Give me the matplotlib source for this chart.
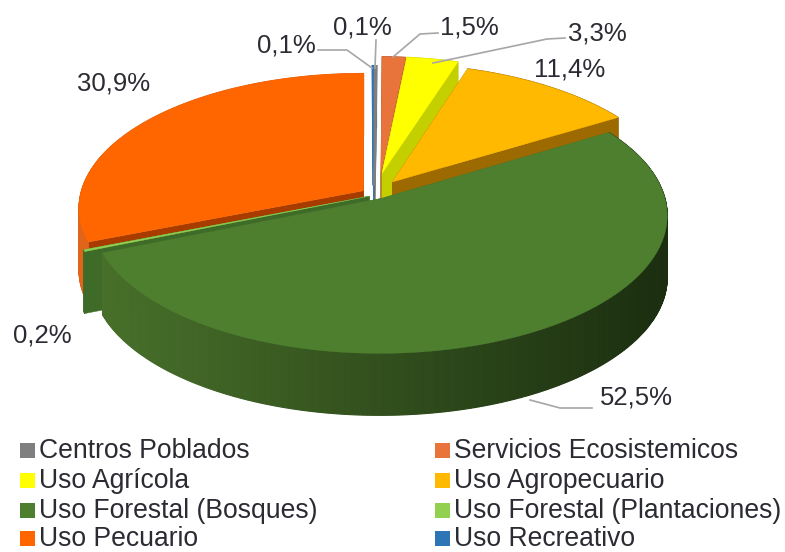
import numpy as np
import matplotlib
matplotlib.use('Agg')
import matplotlib.pyplot as plt
from matplotlib.patches import Polygon, Rectangle

plt.rcParams['font.family'] = ['Liberation Sans', 'DejaVu Sans']

categories = ['Uso Recreativo', 'Centros Poblados', 'Servicios Ecosistemicos', 'Uso Agrícola',
              'Uso Agropecuario', 'Uso Forestal (Bosques)', 'Uso Forestal (Plantaciones)', 'Uso Pecuario']
values = [0.1, 0.1, 1.5, 3.3, 11.4, 52.5, 0.2, 30.9]
value_labels = ['0,1%', '0,1%', '1,5%', '3,3%', '11,4%', '52,5%', '0,2%', '30,9%']
legend_order = ['Centros Poblados', 'Servicios Ecosistemicos', 'Uso Agrícola', 'Uso Agropecuario',
                'Uso Forestal (Bosques)', 'Uso Forestal (Plantaciones)', 'Uso Pecuario', 'Uso Recreativo']

colors = {'Uso Recreativo': '#2e75b6', 'Centros Poblados': '#7f7f7f', 'Servicios Ecosistemicos': '#e8743b',
          'Uso Agrícola': '#ffff00', 'Uso Agropecuario': '#ffb900', 'Uso Forestal (Bosques)': '#4e7f2f',
          'Uso Forestal (Plantaciones)': '#92d050', 'Uso Pecuario': '#ff6600'}
wall_colors = {'Uso Recreativo': '#2e75b6', 'Centros Poblados': '#666666', 'Servicios Ecosistemicos': '#a8552b',
               'Uso Agrícola': '#c4cf00', 'Uso Agropecuario': '#9c6a00', 'Uso Forestal (Bosques)': '#3f6b28',
               'Uso Forestal (Plantaciones)': '#3f6b28', 'Uso Pecuario': '#a83c00'}
ORANGE_SIDE = '#e0651a'

# how far each slice is pulled out, in units of the radius
explode = {'Uso Recreativo': (-0.015, 0.02), 'Centros Poblados': (-0.012, 0.02),
           'Servicios Ecosistemicos': (0.01, 0.11), 'Uso Agrícola': (0.014, 0.11),
           'Uso Agropecuario': (0.05, 0.045), 'Uso Forestal (Bosques)': (0.015, -0.075),
           'Uso Forestal (Plantaciones)': (-0.03, -0.06), 'Uso Pecuario': (-0.05, -0.02)}
radius = {'Uso Pecuario': 0.97, 'Uso Forestal (Bosques)': 0.985}

draw_order = ['Servicios Ecosistemicos', 'Uso Recreativo', 'Centros Poblados', 'Uso Agrícola',
              'Uso Agropecuario', 'Uso Pecuario', 'Uso Forestal (Plantaciones)', 'Uso Forestal (Bosques)']

CX, CY = 378, 188
RX, RY = 287, 135
P, Q = 0.127, 0.01
DEPTH = 62


def project(x, y):
    w = 1 + P * y + Q * x
    return CX + RX * x / w, CY - RY * y / w


def slice_angles():
    # clockwise from 12 o'clock, the first slice sits just left of the top
    total = sum(values)
    start = -values[0] / total * 360
    out = {}
    for name, v in zip(categories, values):
        end = start + v / total * 360
        out[name] = (start, end)
        start = end
    return out


def rim(name, a0, a1):
    n = max(2, int(abs(a1 - a0) / 0.5) + 1)
    th = np.radians(np.linspace(a0, a1, n))
    ox, oy = explode[name]
    r = radius.get(name, 1)
    return project(r * np.sin(th) + ox, r * np.cos(th) + oy)


def green_wall(x):
    # the big slice gets darker towards the right
    t = np.clip((x - 100) / 567, 0, 1)
    a = np.array([72, 112, 42])
    b = np.array([27, 46, 16])
    return tuple((a + (b - a) * t) / 255)


fig = plt.figure(figsize=(7.85, 5.52), dpi=100)
ax = fig.add_axes([0, 0, 1, 1])
ax.set_xlim(0, 785)
ax.set_ylim(552, 0)
ax.axis('off')

angles = slice_angles()
for name in draw_order:
    a0, a1 = angles[name]
    xs, ys = rim(name, a0, a1)
    ax_, ay_ = project(*explode[name])
    wall = wall_colors[name]
    # flat walls along the two cuts
    for ex, ey in ((xs[0], ys[0]), (xs[-1], ys[-1])):
        ax.add_patch(Polygon([(ax_, ay_), (ex, ey), (ex, ey + DEPTH), (ax_, ay_ + DEPTH)],
                             fc=wall, ec=wall, lw=0.3))
    # outer wall, one small quad per step
    for i in range(len(xs) - 1):
        if name == 'Uso Forestal (Bosques)':
            c = green_wall(xs[i])
        elif name == 'Uso Pecuario':
            c = ORANGE_SIDE
        else:
            c = wall
        ax.add_patch(Polygon([(xs[i], ys[i]), (xs[i + 1], ys[i + 1]),
                              (xs[i + 1], ys[i + 1] + DEPTH), (xs[i], ys[i] + DEPTH)],
                             fc=c, ec=c, lw=0.8))
    top = list(zip(xs, ys)) + [(ax_, ay_)]
    # the two thin slices would vanish at the tip without a thicker edge
    edge = 1.6 if values[categories.index(name)] < 0.15 else 0.3
    ax.add_patch(Polygon(top, fc=colors[name], ec=colors[name], lw=edge))

# data labels and their leader lines
label_pos = [(286, 46), (362, 28), (469, 28), (597, 33), (570, 70), (636, 398), (42, 336), (114, 84)]
leaders = [[(318, 50), (347, 50), (372, 68)], [(376, 40), (375, 68)],
           [(438, 33), (420, 34), (393, 57)], [(565, 38), (547, 39), (433, 63)],
           None, [(592, 408), (560, 408), (530, 400)], None, None]
for text, pos, line in zip(value_labels, label_pos, leaders):
    ax.text(pos[0], pos[1], text, fontsize=18.5, color='#2b2b33', ha='center', va='center')
    if line is not None:
        ax.plot([p[0] for p in line], [p[1] for p in line], color='#a6a6a6', lw=1.2)

# legend, two columns
col_x = [20, 435]
row_y = [451, 481, 511, 539]
for i, name in enumerate(legend_order):
    x = col_x[i % 2]
    y = row_y[i // 2]
    ax.add_patch(Rectangle((x, y - 8.5), 15, 15, fc=colors[name], ec='none'))
    ax.text(x + 19, y, name, fontsize=19.1, color='#2b2b33', ha='left', va='center')

fig.savefig('out.png', dpi=100)
